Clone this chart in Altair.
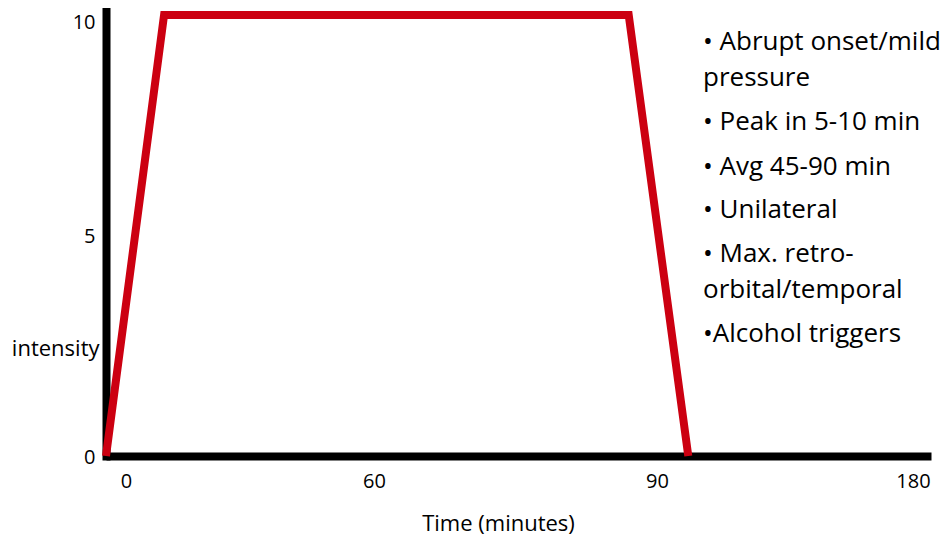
import altair as alt
import pandas as pd

# ---- data ----
time_min = [0, 13, 87, 101]          # minutes
intensity = [0, 10, 10, 0]
x_ticks = [0, 60, 90, 180]
y_ticks = [0, 5, 10]
bullets = [
    "• Abrupt onset/mild\npressure",
    "• Peak in 5-10 min",
    "• Avg 45-90 min",
    "• Unilateral",
    "• Max. retro-\norbital/temporal",
    "•Alcohol triggers",
]

# ---- layout / style ----
bullet_y = [42, 122, 167, 210, 254, 334]
FONT = "Open Sans"
RED = "#cc0011"

df = pd.DataFrame({"t": time_min, "i": intensity})

x_enc = alt.X(
    "t:Q",
    scale=alt.Scale(domain=[0, 60, 90, 180, 186], range=[0, 268, 551, 807, 825],
                    nice=False, zero=False),
    axis=alt.Axis(
        values=x_ticks, title="Time (minutes)", ticks=False, tickSize=0, grid=False,
        domainColor="black", domainWidth=8, labelFlush=False,
        labelFont=FONT, labelFontSize=20, labelColor="black",
        labelBaseline="alphabetic", labelPadding=31,
        labelOffset={"condition": {"test": "datum.value === 0", "value": 20}, "value": 0},
        titleFont=FONT, titleFontSize=22, titleFontWeight="normal", titleColor="black",
        titleX=392, titleY=74, titleAlign="center", titleBaseline="alphabetic",
    ),
)

y_enc = alt.Y(
    "i:Q",
    scale=alt.Scale(domain=[0, 10.16], nice=False, zero=False),
    axis=alt.Axis(
        values=y_ticks, title="intensity", ticks=False, tickSize=0, grid=False,
        domainColor="black", domainWidth=8, domainCap="square",
        labelFont=FONT, labelFontSize=20, labelColor="black", labelPadding=11,
        labelOffset={"condition": {"test": "datum.value === 10", "value": 7}, "value": 1},
        titleFont=FONT, titleFontSize=22, titleFontWeight="normal", titleColor="black",
        titleAngle=0, titleX=-7, titleY=347, titleAlign="right", titleBaseline="alphabetic",
    ),
)

line = alt.Chart(df).mark_line(
    color=RED, strokeWidth=8, strokeJoin="miter", strokeCap="butt"
).encode(x=x_enc, y=y_enc)

layers = [line]
for txt, yy in zip(bullets, bullet_y):
    layers.append(
        alt.Chart(pd.DataFrame({"text": [txt]})).mark_text(
            align="left", baseline="alphabetic", font=FONT, fontSize=26,
            lineBreak="\n", lineHeight=36, color="black"
        ).encode(x=alt.value(597), y=alt.value(yy), text="text:N")
    )

chart = alt.layer(*layers).properties(
    width=825, height=448,
    padding={"left": 98, "top": 0, "right": 13, "bottom": 79},
    autosize=alt.AutoSizeParams(type="none"),
    background="white",
).configure_view(stroke=None)

chart.save("out.html", embed_options={"renderer": "svg", "actions": False})
